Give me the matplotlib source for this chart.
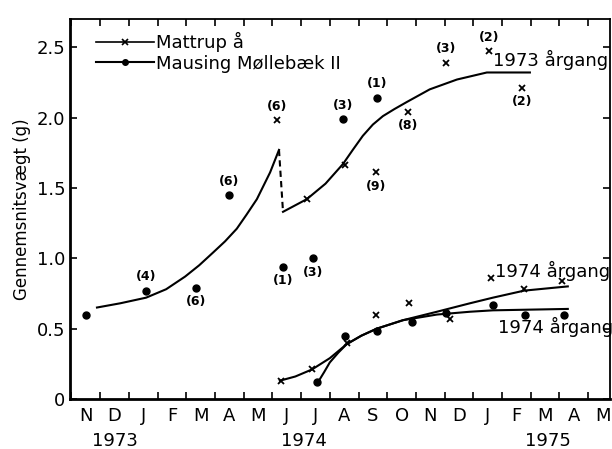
import matplotlib
matplotlib.use("Agg")
import matplotlib.pyplot as plt
from matplotlib.lines import Line2D

plt.rcParams['font.family'] = ['DejaVu Sans']

# months counted from 1 Nov 1973
months = ['N', 'D', 'J', 'F', 'M', 'A', 'M', 'J', 'J', 'A', 'S', 'O', 'N', 'D',
          'J', 'F', 'M', 'A', 'M']
years = ['1973', '1974', '1975']
year_pos = [1.5, 8.1, 16.6]

# 1973 year class, single samples
mausing73_x = [0.5, 2.59, 4.33, 5.49, 7.36, 8.41, 9.45, 10.64]
mausing73_y = [0.60, 0.77, 0.79, 1.45, 0.94, 1.00, 1.99, 2.14]
mausing73_n = ['', '(4)', '(6)', '(6)', '(1)', '(3)', '(3)', '(1)']
mausing73_side = [0, 1, -1, 1, -1, -1, 1, 1]

mattrup73_x = [7.15, 8.2, 9.53, 10.6, 11.72, 13.05, 14.54, 15.7]
mattrup73_y = [1.98, 1.42, 1.66, 1.61, 2.04, 2.39, 2.47, 2.21]
mattrup73_n = ['(6)', '', '', '(9)', '(8)', '(3)', '(2)', '(2)']
mattrup73_side = [1, 0, 0, -1, -1, 1, 1, -1]

# 1974 year class
mausing74_x = [8.55, 9.53, 10.64, 11.86, 13.05, 14.68, 15.8, 17.16]
mausing74_y = [0.12, 0.45, 0.48, 0.55, 0.61, 0.67, 0.60, 0.60]
mattrup74_x = [7.3, 8.38, 9.6, 10.6, 11.76, 13.19, 14.6, 15.77, 17.1]
mattrup74_y = [0.13, 0.21, 0.40, 0.60, 0.68, 0.57, 0.86, 0.78, 0.84]

# hand-drawn growth curves
curve73a_x = [0.89, 1.7, 2.6, 3.3, 3.96, 4.45, 4.93, 5.35, 5.76, 6.1, 6.46, 6.92, 7.23]
curve73a_y = [0.65, 0.68, 0.72, 0.78, 0.87, 0.95, 1.04, 1.12, 1.21, 1.31, 1.42, 1.61, 1.77]
curve73b_x = [7.37, 8.2, 8.85, 9.46, 9.8, 10.15, 10.5, 10.85, 11.25, 11.68, 12.48, 13.43,
              14.47, 15.97]
curve73b_y = [1.33, 1.42, 1.53, 1.67, 1.77, 1.87, 1.95, 2.01, 2.06, 2.11, 2.20, 2.27,
              2.32, 2.32]
curve74_mt_x = [7.26, 7.8, 8.38, 9.0, 9.59, 10.1, 10.64, 11.55, 12.73, 13.88, 14.68, 15.77, 17.29]
curve74_mt_y = [0.13, 0.16, 0.21, 0.29, 0.39, 0.45, 0.50, 0.56, 0.62, 0.68, 0.72, 0.77, 0.80]
curve74_ms_x = [8.59, 8.8, 9.0, 9.3, 9.59, 10.1, 10.64, 11.55, 12.73, 13.88, 14.68, 17.29]
curve74_ms_y = [0.12, 0.19, 0.26, 0.33, 0.39, 0.45, 0.50, 0.56, 0.60, 0.62, 0.63, 0.64]

fig = plt.figure(figsize=(6.12, 4.49), dpi=100)
ax = fig.add_axes([70 / 612, 1 - 399 / 449, 540 / 612, 380 / 449])

lw = 1.5
ax.plot(curve73a_x, curve73a_y, '-', color='black', lw=lw)
ax.plot([curve73a_x[-1], curve73b_x[0]], [curve73a_y[-1], curve73b_y[0]],
        '--', color='black', lw=lw, dashes=(3, 2))
ax.plot(curve73b_x, curve73b_y, '-', color='black', lw=lw)
ax.plot(curve74_mt_x, curve74_mt_y, '-', color='black', lw=lw)
ax.plot(curve74_ms_x, curve74_ms_y, '-', color='black', lw=lw)

ax.plot(mausing73_x, mausing73_y, 'o', color='black', ms=5, ls='none')
ax.plot(mausing74_x, mausing74_y, 'o', color='black', ms=5, ls='none')
ax.plot(mattrup73_x, mattrup73_y, 'x', color='black', ms=4, mew=1.3, ls='none')
ax.plot(mattrup74_x, mattrup74_y, 'x', color='black', ms=4, mew=1.3, ls='none')

# sample sizes above or below the points
for xs, ys, ns, sides in [(mausing73_x, mausing73_y, mausing73_n, mausing73_side),
                          (mattrup73_x, mattrup73_y, mattrup73_n, mattrup73_side)]:
    for x, y, n, s in zip(xs, ys, ns, sides):
        if n:
            ax.annotate(n, (x, y), xytext=(0, 10 * s), textcoords='offset points',
                        ha='center', va='center', fontsize=9, fontweight='bold')

ax.text(14.68, 2.41, '1973 årgang', fontsize=13, va='center', ha='left')
ax.text(14.75, 0.91, '1974 årgang', fontsize=13, va='center', ha='left')
ax.text(14.86, 0.51, '1974 årgang', fontsize=13, va='center', ha='left')

handles = [Line2D([], [], color='black', lw=1.2, marker='x', ms=4, mew=1.2),
           Line2D([], [], color='black', lw=1.5, marker='o', ms=4)]
ax.legend(handles, ['Mattrup å', 'Mausing Møllebæk II'], loc='upper left',
          bbox_to_anchor=(0.035, 0.985), frameon=False, fontsize=13,
          handlelength=3.2, handletextpad=0.1, labelspacing=0.15, borderaxespad=0)

ax.set_xlim(-0.05, 18.76)
ax.set_ylim(0, 2.70)
ax.set_xticks(range(0, 19))
ax.set_xticklabels([])
ax.set_xticks([i + 0.5 for i in range(len(months))], minor=True)
ax.set_xticklabels(months, minor=True, fontsize=13)
ax.tick_params(axis='x', which='major', direction='in', length=5, width=1.2, top=True)
ax.tick_params(axis='x', which='minor', length=0, pad=6)
ax.set_yticks([0, 0.5, 1.0, 1.5, 2.0, 2.5])
ax.set_yticklabels(['0', '0.5', '1.0', '1.5', '2.0', '2.5'], fontsize=13)
ax.tick_params(axis='y', direction='in', length=5, width=1.2, right=True)

for yr, xp in zip(years, year_pos):
    ax.text(xp, -0.295, yr, ha='center', va='center', fontsize=13, clip_on=False)

ax.set_ylabel('Gennemsnitsvægt (g)', fontsize=12, labelpad=4)

for side in ['left', 'bottom']:
    ax.spines[side].set_linewidth(2)
for side in ['top', 'right']:
    ax.spines[side].set_linewidth(1.3)

fig.savefig('out.png', dpi=100)
